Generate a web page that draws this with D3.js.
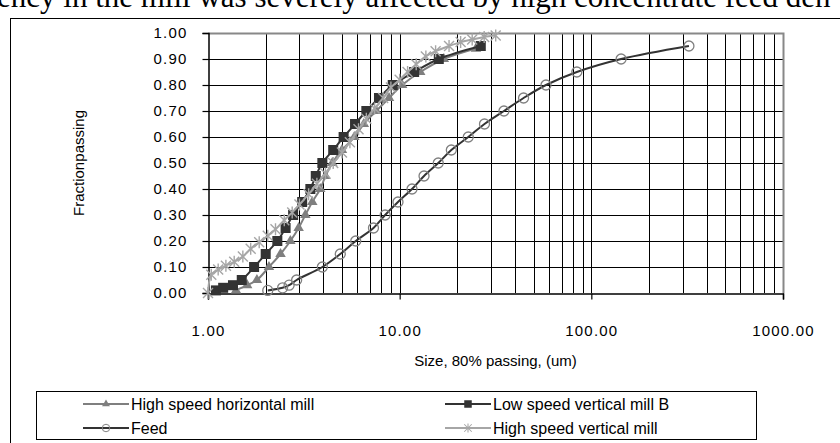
<!DOCTYPE html>
<html>
<head>
<meta charset="utf-8">
<script src="https://cdn.jsdelivr.net/npm/d3@7"></script>
<style>
  body { margin: 0; background: #fff; }
  svg { display: block; }
  text { font-family: "Liberation Sans", Arial, sans-serif; fill: #000; }
</style>
</head>
<body>
<svg id="chart" width="840" height="443"></svg>
<script>
// series names in legend order
const seriesNames = ['High speed horizontal mill', 'Low speed vertical mill B', 'Feed', 'High speed vertical mill'];

// size (um) / fraction passing
const horizSize = [1.4, 1.6, 1.8, 2.08, 2.39, 2.69, 2.97, 3.22, 3.5, 3.85, 4.1, 4.45, 5.0, 5.8, 6.5, 7.55, 8.8, 10.3, 12.8, 17.0, 25.0];
const horizFrac = [0.01, 0.03, 0.05, 0.10, 0.15, 0.20, 0.25, 0.30, 0.35, 0.40, 0.45, 0.50, 0.55, 0.60, 0.65, 0.70, 0.75, 0.80, 0.85, 0.90, 0.94];

const lowBSize = [1.1, 1.2, 1.35, 1.5, 1.74, 2.0, 2.3, 2.54, 2.78, 3.1, 3.42, 3.65, 3.95, 4.5, 5.1, 5.85, 6.7, 7.8, 9.2, 11.9, 16.0, 26.5];
const lowBFrac = [0.01, 0.02, 0.03, 0.05, 0.10, 0.15, 0.20, 0.25, 0.30, 0.35, 0.40, 0.45, 0.50, 0.55, 0.60, 0.65, 0.70, 0.75, 0.80, 0.85, 0.90, 0.95];

const feedSize = [2.05, 2.45, 2.65, 2.9, 3.95, 4.9, 5.9, 7.3, 8.4, 9.8, 11.6, 13.4, 15.9, 18.6, 22.8, 27.7, 35.0, 44.3, 58, 84, 143, 323];
const feedFrac = [0.01, 0.02, 0.03, 0.05, 0.10, 0.15, 0.20, 0.25, 0.30, 0.35, 0.40, 0.45, 0.50, 0.55, 0.60, 0.65, 0.70, 0.75, 0.80, 0.85, 0.90, 0.95];

const vertSize = [1.0, 1.04, 1.13, 1.24, 1.37, 1.52, 1.67, 1.85, 2.05, 2.25, 2.5, 2.75, 3.0, 3.35, 3.7, 4.1, 4.5, 5.0, 5.5, 6.1, 6.7, 7.4, 8.2, 9.0, 10.0, 11.0, 12.2, 13.7, 15.4, 18.1, 20.8, 23.9, 27.6, 31.7];
const vertFrac = [0.00, 0.07, 0.09, 0.105, 0.12, 0.14, 0.17, 0.195, 0.22, 0.245, 0.28, 0.31, 0.34, 0.38, 0.42, 0.46, 0.50, 0.54, 0.58, 0.63, 0.67, 0.71, 0.75, 0.79, 0.82, 0.85, 0.88, 0.91, 0.93, 0.95, 0.965, 0.975, 0.985, 0.99];

const yTicks = [0, 0.1, 0.2, 0.3, 0.4, 0.5, 0.6, 0.7, 0.8, 0.9, 1.0];
const xTicks = [1, 10, 100, 1000];

const svg = d3.select('#chart');

// plot area
const plot = { left: 208, right: 783, top: 33, bottom: 293 };

const x = d3.scaleLog().domain([1, 1000]).range([plot.left, plot.right]);
const y = d3.scaleLinear().domain([0, 1]).range([plot.bottom, plot.top]);

// clipped sentence from the page above the chart
svg.append('text')
  .attr('x', -3).attr('y', 7)
  .style('font-family', '"Liberation Serif", "Times New Roman", serif')
  .style('font-size', '31px')
  .text('ency in the mill was severely affected by high concentrate feed den');

// outer chart frame (runs off the right and bottom)
svg.append('rect')
  .attr('x', 10.5).attr('y', 18.5)
  .attr('width', 900).attr('height', 500)
  .attr('fill', 'none').attr('stroke', '#000').attr('stroke-width', 1);

// minor log grid
const minor = [];
[1, 10, 100].forEach(dec => {
  for (let k = 2; k <= 10; k++) minor.push(dec * k);
});

const grid = svg.append('g').attr('class', 'grid');
grid.selectAll('line.v')
  .data(minor.filter(v => v < 1000))
  .enter().append('line')
  .attr('x1', d => Math.round(x(d)) + 0.5).attr('x2', d => Math.round(x(d)) + 0.5)
  .attr('y1', plot.top).attr('y2', plot.bottom)
  .attr('stroke', '#000').attr('stroke-width', 1);

grid.selectAll('line.h')
  .data(yTicks.filter(v => v > 0 && v < 1))
  .enter().append('line')
  .attr('x1', plot.left).attr('x2', plot.right)
  .attr('y1', d => Math.round(y(d)) + 0.5).attr('y2', d => Math.round(y(d)) + 0.5)
  .attr('stroke', '#000').attr('stroke-width', 1);

// grey plot border on top / right
svg.append('path')
  .attr('d', `M${plot.left},${plot.top + 0.5}H${plot.right + 0.5}V${plot.bottom}`)
  .attr('fill', 'none').attr('stroke', '#888').attr('stroke-width', 2);

// axes
const yAxis = svg.append('g')
  .attr('transform', `translate(${plot.left + 0.5},0)`)
  .call(d3.axisLeft(y).tickValues(yTicks).tickFormat(d3.format('.2f')).tickSize(6).tickPadding(15));

const xAxis = svg.append('g')
  .attr('transform', `translate(0,${plot.bottom + 0.5})`)
  .call(d3.axisBottom(x).tickValues(xTicks).tickFormat(d3.format('.2f')).tickSize(6).tickPadding(26));

[yAxis, xAxis].forEach(ax => {
  ax.select('.domain').attr('stroke', '#000').attr('stroke-width', 1.5);
  ax.selectAll('.tick line').attr('stroke', '#000').attr('stroke-width', 1.2);
  ax.selectAll('.tick text')
    .style('font-family', '"Liberation Sans", Arial, sans-serif')
    .style('font-size', '15px').style('letter-spacing', '1.2px')
    .attr('fill', '#111');
});

// axis titles
svg.append('text')
  .attr('x', (plot.left + plot.right) / 2).attr('y', 366)
  .attr('text-anchor', 'middle').style('font-size', '15px')
  .text('Size, 80% passing, (um)');

svg.append('text')
  .attr('transform', `translate(84,${(plot.top + plot.bottom) / 2}) rotate(-90)`)
  .attr('text-anchor', 'middle').style('font-size', '15px')
  .style('word-spacing', '-4px')
  .text('Fraction passing');

// series
const zip = (s, f) => s.map((v, i) => ({ size: v, frac: f[i] }));
const series = [
  { name: seriesNames[0], values: zip(horizSize, horizFrac), line: '#7f7f7f', marker: 'triangle', fill: '#7f7f7f' },
  { name: seriesNames[1], values: zip(lowBSize, lowBFrac), line: '#333', marker: 'square', fill: '#333' },
  { name: seriesNames[2], values: zip(feedSize, feedFrac), line: '#333', marker: 'circle', fill: 'none', stroke: '#808080' },
  { name: seriesNames[3], values: zip(vertSize, vertFrac), line: '#a6a6a6', marker: 'star', stroke: '#a6a6a6' }
];

const line = d3.line()
  .x(d => x(d.size))
  .y(d => y(d.frac))
  .curve(d3.curveCatmullRom.alpha(0.5));

function drawMarker(sel, s) {
  if (s.marker === 'triangle') {
    sel.append('path').attr('d', d3.symbol(d3.symbolTriangle, 48)()).attr('fill', s.fill);
  } else if (s.marker === 'square') {
    sel.append('rect').attr('x', -5).attr('y', -5).attr('width', 10).attr('height', 10).attr('fill', s.fill);
  } else if (s.marker === 'circle') {
    sel.append('circle').attr('r', 5).attr('fill', 'none').attr('stroke', s.stroke).attr('stroke-width', 1.3);
  } else {
    sel.append('path').attr('d', 'M-5,-5L5,5M-5,5L5,-5M0,-6L0,6')
      .attr('fill', 'none').attr('stroke', s.stroke).attr('stroke-width', 1.4);
  }
}

series.forEach(s => {
  const g = svg.append('g').attr('class', 'series');
  g.append('path')
    .attr('d', line(s.values))
    .attr('fill', 'none').attr('stroke', s.line).attr('stroke-width', 2);
  g.selectAll('g.pt')
    .data(s.values)
    .enter().append('g')
    .attr('class', 'pt')
    .attr('transform', d => `translate(${x(d.size)},${y(d.frac)})`)
    .each(function () { drawMarker(d3.select(this), s); });
});

// legend
const legend = svg.append('g');
legend.append('rect')
  .attr('x', 36.5).attr('y', 391.5).attr('width', 720).attr('height', 48)
  .attr('fill', '#fff').attr('stroke', '#000').attr('stroke-width', 1);

const legendPos = [[83, 404], [445, 404], [83, 428], [445, 428]];
series.forEach((s, i) => {
  const [lx, ly] = legendPos[i];
  const item = legend.append('g');
  item.append('line')
    .attr('x1', lx).attr('x2', lx + 46).attr('y1', ly).attr('y2', ly)
    .attr('stroke', s.line).attr('stroke-width', 2);
  const m = item.append('g').attr('transform', `translate(${lx + 23},${ly}) scale(0.75)`);
  drawMarker(m, s);
  item.append('text')
    .attr('x', lx + 48).attr('y', ly + 6)
    .style('font-size', '16px')
    .text(s.name);
});
</script>
</body>
</html>
